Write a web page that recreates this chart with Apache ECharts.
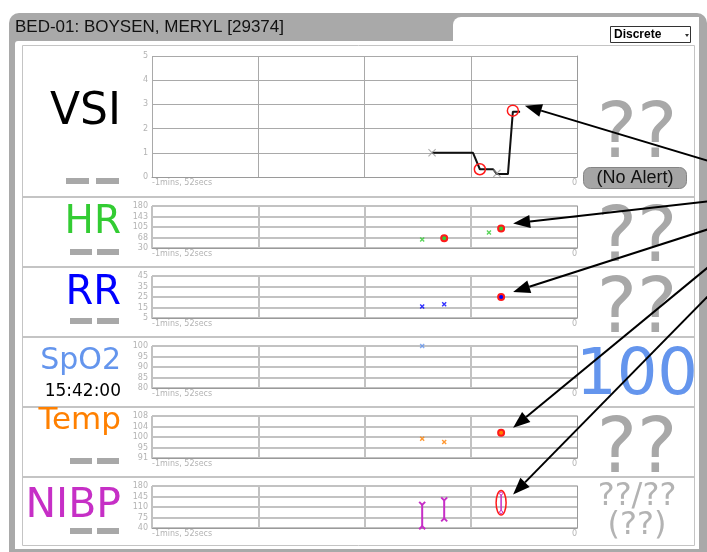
<!DOCTYPE html>
<html lang="en">
<head>
    <meta charset="UTF-8">
    <script src="https://cdn.jsdelivr.net/npm/echarts@6.0.0/dist/echarts.min.js"></script>
    <title>BED-01</title>
    <style>
        html, body { margin: 0; padding: 0; background: #fff; }
    </style>
</head>
<body>
<div id="main" style="width: 707px;height:552px;"></div>
<script type="text/javascript">

    // time axis, seconds before now
    var xMinSec = -112;
    var xStepSec = 28;
    var xEndLabels = ['-1mins, 52secs', '0'];

    // tick labels of each strip
    var vsiTicks = [0, 1, 2, 3, 4, 5];
    var hrTicks = [30, 68, 105, 143, 180];
    var rrTicks = [5, 15, 25, 35, 45];
    var spo2Ticks = [80, 85, 90, 95, 100];
    var tempTicks = [91, 95, 100, 104, 108];
    var nibpTicks = [40, 75, 110, 145, 180];

    // readings [sec, value]
    var vsiLine = [[-38.2, 1.0], [-27.4, 1.0], [-25.6, 0.32], [-22.1, 0.32], [-21.1, 0.12], [-18.2, 0.12], [-16.9, 2.7], [-15.0, 2.7]];
    var vsiNormal = [[-38.2, 1.0], [-21.1, 0.15]];
    var vsiAlert = [[-25.6, 0.32], [-16.9, 2.74]];
    var hrNormal = [[-40.8, 60], [-23.2, 85]];
    var hrAlert = [[-35.0, 65], [-20.0, 100]];
    var rrNormal = [[-40.8, 16], [-35.0, 18]];
    var rrAlert = [[-20.0, 25]];
    var spo2Normal = [[-40.8, 100]];
    var tempNormal = [[-40.8, 98.8], [-35.0, 97.5]];
    var tempAlert = [[-20.0, 101.2]];
    // [sec, systolic, diastolic]
    var nibpNormal = [[-40.8, 117, 46], [-35.0, 132, 72]];
    var nibpAlert = [[-20.0, 155, 93]];

    var chartDom = document.getElementById('main');
    var myChart = echarts.init(chartDom, null, {renderer: 'canvas'});

    var FONT = 'DejaVu Sans';
    var panelTicks = [vsiTicks, hrTicks, rrTicks, spo2Ticks, tempTicks, nibpTicks];
    var panelTops = [56, 206, 276, 346, 416, 486];
    var panelHeights = [121, 42, 42, 42, 42, 42];

    var grids = [], xAxes = [], yAxes = [];
    panelTicks.forEach(function (ticks, i) {
        var lineColor = i === 0 ? '#a9a9a9' : '#c2c2c2';
        var lineWidth = i === 0 ? 1 : 2;
        grids.push({left: 152, top: panelTops[i], width: 425, height: panelHeights[i], outerBoundsMode: 'none'});
        xAxes.push({
            type: 'value', gridIndex: i, min: xMinSec, max: 0, interval: xStepSec,
            axisLine: {show: true, onZero: false, lineStyle: {color: '#9a9a9a', width: 1}},
            axisTick: {show: false},
            splitLine: {show: true, showMaxLine: false, lineStyle: {color: lineColor, width: lineWidth}},
            axisLabel: {
                show: true, showMinLabel: true, showMaxLabel: true,
                alignMinLabel: 'left', alignMaxLabel: 'right',
                color: '#b3b3b3', fontSize: 8, fontFamily: FONT, margin: 2,
                formatter: function (v) {
                    if (v === xMinSec) return xEndLabels[0];
                    if (v === 0) return xEndLabels[1];
                    return '';
                }
            }
        });
        // visible axis: evenly spaced tick rows
        yAxes.push({
            type: 'value', gridIndex: i, min: 0, max: ticks.length - 1, interval: 1,
            axisLine: {show: true, lineStyle: {color: '#9a9a9a', width: 1}},
            axisTick: {show: false},
            splitLine: {show: true, lineStyle: {color: lineColor, width: lineWidth}},
            axisLabel: {
                color: '#b3b3b3', fontSize: 8, fontFamily: FONT, margin: 4,
                formatter: function (v) { return String(ticks[v]); }
            }
        });
        // value axis the readings are drawn on
        yAxes.push({
            type: 'value', gridIndex: i, position: 'right',
            min: ticks[0], max: ticks[ticks.length - 1], show: false
        });
    });

    var xPath = 'path://M0,2L2,0L5,3L8,0L10,2L7,5L10,8L8,10L5,7L2,10L0,8L3,5Z';
    var thinX = 'path://M0,1L1,0L5,4L9,0L10,1L6,5L10,9L9,10L5,6L1,10L0,9L4,5Z';

    function crosses(i, data, color, size, sym) {
        return {
            type: 'scatter', xAxisIndex: i, yAxisIndex: 2 * i + 1, data: data, z: 5,
            symbol: sym || xPath, symbolSize: size || 5,
            itemStyle: {color: color}
        };
    }
    function alerts(i, data, fill, size, border) {
        return {
            type: 'scatter', xAxisIndex: i, yAxisIndex: 2 * i + 1, data: data, z: 6,
            symbol: 'circle', symbolSize: size || 6,
            itemStyle: {color: fill, borderColor: '#ff1a1a', borderWidth: border || 2, opacity: 1}
        };
    }

    var magenta = '#c62fc6';
    function nibpRender(isAlert) {
        return function (params, api) {
            var t = api.value(0);
            var top = api.coord([t, api.value(1)]);
            var bot = api.coord([t, api.value(2)]);
            var st = {stroke: magenta, lineWidth: isAlert ? 1.5 : 2, fill: 'none'};
            var kids = [{type: 'line', shape: {x1: top[0], y1: top[1], x2: bot[0], y2: bot[1]}, style: st}];
            if (!isAlert) {
                kids.push({type: 'polyline', shape: {points: [[top[0] - 3, top[1] - 3], [top[0], top[1]], [top[0] + 3, top[1] - 3]]}, style: st});
                kids.push({type: 'polyline', shape: {points: [[bot[0] - 3, bot[1] + 3], [bot[0], bot[1]], [bot[0] + 3, bot[1] + 3]]}, style: st});
            } else {
                kids.push({type: 'circle', shape: {cx: top[0], cy: top[1], r: 1.5}, style: {stroke: magenta, fill: '#fff', lineWidth: 1}});
                kids.push({type: 'circle', shape: {cx: bot[0], cy: bot[1], r: 1.5}, style: {stroke: magenta, fill: '#fff', lineWidth: 1}});
                var cy = (top[1] + bot[1]) / 2, ry = (bot[1] - top[1]) / 2 + 3, rx = 5;
                kids.push({
                    type: 'path',
                    shape: {pathData: 'M' + (top[0] - rx) + ',' + cy + ' A' + rx + ',' + ry + ' 0 1,0 ' + (top[0] + rx) + ',' + cy +
                        ' A' + rx + ',' + ry + ' 0 1,0 ' + (top[0] - rx) + ',' + cy + ' Z'},
                    style: {stroke: '#ff1a1a', fill: 'none', lineWidth: 1.5}
                });
            }
            return {type: 'group', children: kids};
        };
    }

    var series = [
        {type: 'line', xAxisIndex: 0, yAxisIndex: 1, data: vsiLine, showSymbol: false, z: 4,
            lineStyle: {color: '#111', width: 2}, itemStyle: {color: '#111'}},
        crosses(0, vsiNormal, '#9a9a9a', 8, thinX),
        alerts(0, vsiAlert, 'rgba(0,0,0,0)', 11, 1.5),
        crosses(1, hrNormal, '#33cc33'),
        alerts(1, hrAlert, '#33cc33'),
        crosses(2, rrNormal, '#0000ff'),
        alerts(2, rrAlert, '#0000ff'),
        crosses(3, spo2Normal, '#6495ed'),
        crosses(4, tempNormal, '#ff8000'),
        alerts(4, tempAlert, '#ff8000'),
        {type: 'custom', xAxisIndex: 5, yAxisIndex: 11, data: nibpNormal, renderItem: nibpRender(false), z: 5},
        {type: 'custom', xAxisIndex: 5, yAxisIndex: 11, data: nibpAlert, renderItem: nibpRender(true), z: 6}
    ];

    // frame, labels and readouts
    var gray = '#a9a9a9';
    var graphics = [
        {type: 'rect', z: -20, shape: {x: 9, y: 13, width: 698, height: 560, r: 10}, style: {fill: gray}},
        {type: 'rect', z: -19, shape: {x: 453, y: 17, width: 246, height: 40, r: [8, 0, 0, 0]}, style: {fill: '#fff'}},
        {type: 'rect', z: -19, shape: {x: 15, y: 41, width: 684, height: 508, r: [3, 0, 0, 0]}, style: {fill: '#fff'}},
        {type: 'rect', z: -18, shape: {x: 22.5, y: 45.5, width: 672, height: 500}, style: {fill: 'none', stroke: '#c4c4c4', lineWidth: 1}},
        {type: 'text', z: -18, style: {text: 'BED-01: BOYSEN, MERYL [29374]', x: 15, y: 27, fill: '#111',
            fontSize: 17, fontFamily: 'Liberation Sans', verticalAlign: 'middle'}},
        {type: 'rect', z: -18, shape: {x: 610.5, y: 26.5, width: 80, height: 16}, style: {fill: '#fff', stroke: '#333', lineWidth: 1}},
        {type: 'text', z: -17, style: {text: 'Discrete', x: 614, y: 35, fill: '#000', fontSize: 12, fontWeight: 'bold',
            fontFamily: 'Liberation Sans', verticalAlign: 'middle'}},
        {type: 'polygon', z: -17, shape: {points: [[685, 34], [689, 34], [687, 37]]}, style: {fill: '#333'}}
    ];
    [197, 267, 337, 407, 477].forEach(function (y) {
        graphics.push({type: 'line', z: -17, shape: {x1: 23, y1: y, x2: 694, y2: y}, style: {stroke: '#c4c4c4', lineWidth: 2}});
    });

    var leftLabels = [
        ['VSI', '#000', 44, 113], ['HR', '#33cc33', 39, 223], ['RR', '#0000ff', 40, 294],
        ['SpO2', '#6495ed', 30, 361], ['15:42:00', '#000', 17, 392], ['Temp', '#ff8000', 31, 421],
        ['NIBP', magenta, 41, 506]
    ];
    leftLabels.forEach(function (l) {
        graphics.push({type: 'text', z: -16, style: {text: l[0], x: 121, y: l[3], fill: l[1], fontSize: l[2],
            fontFamily: FONT, align: 'right', verticalAlign: 'middle'}});
    });
    [[66, 178, 23], [96, 178, 23], [70, 249, 22], [97, 249, 22], [70, 318, 22], [97, 318, 22],
        [70, 458, 22], [97, 458, 22], [70, 528, 22], [97, 528, 22]].forEach(function (d) {
        graphics.push({type: 'rect', z: -16, shape: {x: d[0], y: d[1], width: d[2], height: 6}, style: {fill: '#a8a8a8'}});
    });

    var rightReadouts = [
        ['??', '#a8a8a8', 76, 137], ['??', '#a8a8a8', 76, 241], ['??', '#a8a8a8', 76, 312],
        ['100', '#6495ed', 64, 377], ['??', '#a8a8a8', 76, 452], ['??/??', '#b3b3b3', 32, 497], ['(??)', '#b3b3b3', 32, 526]
    ];
    rightReadouts.forEach(function (r) {
        graphics.push({type: 'text', z: -16, style: {text: r[0], x: 637, y: r[3], fill: r[1], fontSize: r[2],
            fontFamily: FONT, align: 'center', verticalAlign: 'middle'}});
    });
    graphics.push({type: 'rect', z: -15, shape: {x: 583.5, y: 167.5, width: 103, height: 21, r: 7},
        style: {fill: '#a5a5a5', stroke: '#858585', lineWidth: 1}});
    graphics.push({type: 'text', z: -14, style: {text: '(No Alert)', x: 635, y: 178.5, fill: '#111', fontSize: 18,
        fontFamily: 'Liberation Sans', align: 'center', verticalAlign: 'middle'}});

    var option = {
        animation: false,
        backgroundColor: '#fff',
        grid: grids,
        xAxis: xAxes,
        yAxis: yAxes,
        series: series,
        graphic: graphics
    };
    myChart.setOption(option);

    // annotation arrows pointing at the flagged readings
    var arrowTargets = [
        {series: 2, value: vsiAlert[1], start: [712, 162]},
        {series: 4, value: hrAlert[1], start: [712, 201]},
        {series: 6, value: rrAlert[0], start: [712, 228]},
        {series: 9, value: tempAlert[0], start: [712, 264]},
        {series: 11, value: [nibpAlert[0][0], nibpAlert[0][1]], start: [712, 292], dy: 1}
    ];
    arrowTargets.forEach(function (a) {
        var p = myChart.convertToPixel({seriesIndex: a.series}, a.value);
        var tip = [p[0] + 12, p[1] + (a.dy !== undefined ? a.dy : -5)];
        var dx = tip[0] - a.start[0], dy = tip[1] - a.start[1];
        var len = Math.sqrt(dx * dx + dy * dy);
        var ux = dx / len, uy = dy / len;
        var base = [tip[0] - ux * 17, tip[1] - uy * 17];
        var px = -uy * 6.5, py = ux * 6.5;
        graphics.push({type: 'line', z: 100, shape: {x1: a.start[0], y1: a.start[1], x2: base[0], y2: base[1]},
            style: {stroke: '#000', lineWidth: 2}});
        graphics.push({type: 'polygon', z: 100, shape: {points: [tip, [base[0] + px, base[1] + py], [base[0] - px, base[1] - py]]},
            style: {fill: '#000'}});
    });
    myChart.setOption({graphic: graphics});
</script>
</body>
</html>
